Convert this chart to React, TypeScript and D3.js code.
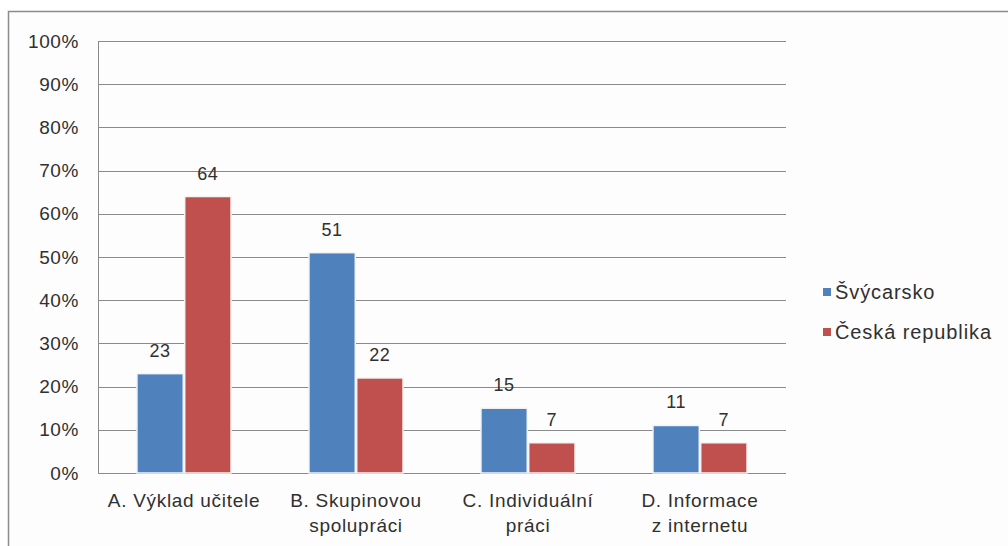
import React from "react";
import * as d3 from "d3";

const categories: string[][] = [
  ["A. Výklad učitele"],
  ["B. Skupinovou", "spolupráci"],
  ["C. Individuální", "práci"],
  ["D. Informace", "z internetu"],
];
const seriesNames = ["Švýcarsko", "Česká republika"];
const switzerland = [23, 51, 15, 11];
const czechRepublic = [64, 22, 7, 7];
const seriesColors = ["#4F81BD", "#C0504D"];
const yTicks = [0, 10, 20, 30, 40, 50, 60, 70, 80, 90, 100];

const W = 1008;
const H = 546;
const plot = { left: 98, right: 786, top: 41, bottom: 473 };
const FONT = "'Liberation Sans', Arial, sans-serif";
const TEXT = "#303030";
const GRID = "#8a8a8a";

export default function App() {
  const series = [switzerland, czechRepublic];
  const x = d3
    .scaleBand<number>()
    .domain(d3.range(categories.length))
    .range([plot.left, plot.right])
    .paddingInner(0.453)
    .paddingOuter(0.2265);
  const xs = d3
    .scaleBand<number>()
    .domain(d3.range(series.length))
    .range([0, x.bandwidth()])
    .paddingInner(0.03);
  const y = d3.scaleLinear().domain([0, 100]).range([plot.bottom, plot.top]);

  return (
    <svg
      width={W}
      height={H}
      style={{ position: "absolute", left: 0, top: 0, background: "#fff" }}
      fontFamily={FONT}
    >
      <rect x={8.5} y={11.5} width={1010} height={545} fill="#fdfdfd" stroke="#8c8c8c" strokeWidth={1.5} />

      {/* gridlines */}
      {yTicks.map((t) => (
        <line key={t} x1={plot.left} x2={plot.right} y1={Math.round(y(t)) + 0.5} y2={Math.round(y(t)) + 0.5} stroke={GRID} strokeWidth={1} />
      ))}
      <line x1={plot.left + 0.5} x2={plot.left + 0.5} y1={plot.top} y2={plot.bottom + 0.5} stroke={GRID} strokeWidth={1} />

      {/* y tick labels */}
      {yTicks.map((t) => (
        <text key={t} x={79} y={y(t)} dy="0.35em" textAnchor="end" fontSize={19} letterSpacing={0.6} fill={TEXT}>
          {t}%
        </text>
      ))}

      {/* bars */}
      {series.map((vals, si) =>
        vals.map((v, ci) => {
          const bx = (x(ci) as number) + (xs(si) as number);
          const by = y(v);
          return (
            <g key={`${si}-${ci}`}>
              <rect
                x={bx}
                y={by}
                width={xs.bandwidth()}
                height={plot.bottom - by}
                fill={seriesColors[si]}
                stroke="#f4f4f4"
                strokeWidth={1.5}
              />
              <text
                x={bx + xs.bandwidth() / 2}
                y={by - 17}
                textAnchor="middle"
                fontSize={18}
                letterSpacing={0.5}
                fill={TEXT}
              >
                {v}
              </text>
            </g>
          );
        })
      )}

      {/* category labels */}
      {categories.map((lines, ci) => (
        <text key={ci} x={(x(ci) as number) + x.bandwidth() / 2} y={507} textAnchor="middle" fontSize={19} letterSpacing={0.7} fill={TEXT}>
          {lines.map((l, li) => (
            <tspan key={li} x={(x(ci) as number) + x.bandwidth() / 2} dy={li === 0 ? 0 : 25}>
              {l}
            </tspan>
          ))}
        </text>
      ))}

      {/* legend */}
      {seriesNames.map((name, i) => (
        <g key={name} transform={`translate(823, ${292 + i * 40})`}>
          <rect x={0} y={-4} width={8} height={8} fill={seriesColors[i]} />
          <text x={12} y={0} dy="0.35em" fontSize={20} letterSpacing={0.9} fill={TEXT}>
            {name}
          </text>
        </g>
      ))}
    </svg>
  );
}
